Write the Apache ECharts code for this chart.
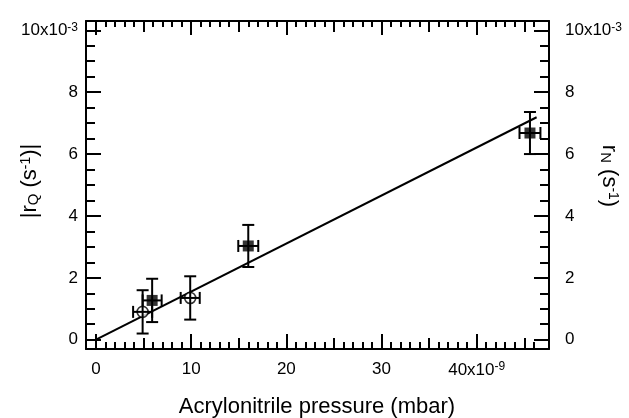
<!DOCTYPE html>
<html>
<head>
<meta charset="utf-8">
<script src="https://cdn.jsdelivr.net/npm/echarts@6/dist/echarts.min.js"></script>
<style>
  html, body { margin: 0; padding: 0; background: #fff; }
  #chart { width: 629px; height: 418px; }
</style>
</head>
<body>
<div id="chart"></div>
<script>
// Pressure in units of 1e-9 mbar, rates in units of 1e-3 s^-1.
const openX = [4.9, 9.9];
const openY = [0.90, 1.35];
const openXErr = [1.0, 1.0];
const openYErr = [0.70, 0.70];

const filledX = [5.9, 16.0, 45.6];
const filledY = [1.27, 3.03, 6.68];
const filledXErr = [1.0, 1.05, 1.1];
const filledYErr = [0.70, 0.68, 0.68];

// Linear fit end points
const fitX = [0, 46.3];
const fitY = [0, 7.19];

// Tick positions and exponent labels
const xMajorTicks = [0, 10, 20, 30, 40];
const xMidTicks = [5, 15, 25, 35, 45];
const yMajorTicks = [0, 2, 4, 6, 8, 10];
const xExponent = '-9';
const yExponent = '-3';

const xRange = [-1.05, 47.6];
const yRange = [-0.3, 10.3];

const FONT = 'Liberation Sans, Arial, Helvetica, sans-serif';
const INK = '#000';

// minor ticks: every 1 on x, every 0.5 on y, skipping the larger ticks
const xMinorTicks = [];
for (let v = 0; v <= 46; v++) if (v % 5 !== 0) xMinorTicks.push(v);
const yMinorTicks = [];
for (let k = 1; k <= 19; k++) { if (k % 4 !== 0) yMinorTicks.push(k / 2); }

const labelRich = {
  n: { fontSize: 17, fontFamily: FONT, color: INK },
  e: { fontSize: 12, fontFamily: FONT, color: INK, verticalAlign: 'top', padding: [0, 0, 6, 0] }
};

function xLabel(v) {
  return v === xMajorTicks[xMajorTicks.length - 1] ? '{n|' + v + 'x10}{e|' + xExponent + '}' : '{n|' + v + '}';
}
function yLabel(v) {
  return v === yMajorTicks[yMajorTicks.length - 1] ? '{n|' + v + 'x10}{e|' + yExponent + '}' : '{n|' + v + '}';
}

function axis(pos, range, ticks, len, label, showLine) {
  return {
    type: 'value',
    position: pos,
    min: range[0],
    max: range[1],
    axisLine: { show: showLine, onZero: false, lineStyle: { color: INK, width: 2 } },
    axisTick: { show: true, inside: true, length: len, customValues: ticks, lineStyle: { color: INK, width: 2 } },
    axisLabel: label ? Object.assign({ show: true, customValues: ticks, rich: labelRich, color: INK }, label) : { show: false },
    splitLine: { show: false }
  };
}

const xAxes = [
  axis('bottom', xRange, xMajorTicks, 15, { formatter: xLabel, margin: 12 }, true),
  axis('bottom', xRange, xMidTicks, 11, null, false),
  axis('bottom', xRange, xMinorTicks, 7, null, false),
  axis('top', xRange, xMajorTicks, 14, null, true),
  axis('top', xRange, xMidTicks, 11, null, false),
  axis('top', xRange, xMinorTicks, 6, null, false)
];
const yAxes = [
  axis('left', yRange, yMajorTicks, 15, { formatter: yLabel, margin: 8 }, true),
  axis('left', yRange, yMinorTicks, 9, null, false),
  axis('right', yRange, yMajorTicks, 15, { formatter: yLabel, margin: 16, align: 'left' }, true),
  axis('right', yRange, yMinorTicks, 9, null, false)
];

function errData(xs, ys, dxs, dys) {
  return xs.map((x, i) => [x, ys[i], dxs[i], dys[i]]);
}

function renderErrorBars(params, api) {
  const x = api.value(0), y = api.value(1), dx = api.value(2), dy = api.value(3);
  const top = api.coord([x, y + dy]);
  const bot = api.coord([x, y - dy]);
  const lft = api.coord([x - dx, y]);
  const rgt = api.coord([x + dx, y]);
  const cap = 6;
  const style = { stroke: INK, lineWidth: 2, fill: null };
  const seg = (x1, y1, x2, y2) => ({ type: 'line', shape: { x1, y1, x2, y2 }, style });
  return {
    type: 'group',
    children: [
      seg(top[0], top[1], bot[0], bot[1]),
      seg(top[0] - cap, top[1], top[0] + cap, top[1]),
      seg(bot[0] - cap, bot[1], bot[0] + cap, bot[1]),
      seg(lft[0], lft[1], rgt[0], rgt[1]),
      seg(lft[0], lft[1] - cap, lft[0], lft[1] + cap),
      seg(rgt[0], rgt[1] - cap, rgt[0], rgt[1] + cap)
    ]
  };
}

const titleRich = {
  b: { fontSize: 22, fontFamily: FONT, fill: INK },
  s: { fontSize: 15, fontFamily: FONT, fill: INK, verticalAlign: 'bottom', padding: [6, 0, 0, 0] },
  p: { fontSize: 14, fontFamily: FONT, fill: INK, verticalAlign: 'top', padding: [0, 0, 8, 0] }
};

const chart = echarts.init(document.getElementById('chart'), null, { renderer: 'canvas' });
chart.setOption({
  animation: false,
  backgroundColor: '#fff',
  grid: { left: 86, top: 21, right: 80, bottom: 69, containLabel: false },
  xAxis: xAxes,
  yAxis: yAxes,
  series: [
    {
      name: 'fit',
      type: 'line',
      xAxisIndex: 0, yAxisIndex: 0,
      data: fitX.map((x, i) => [x, fitY[i]]),
      symbol: 'none',
      lineStyle: { color: INK, width: 2 },
      z: 2
    },
    {
      name: 'rN',
      type: 'scatter',
      xAxisIndex: 0, yAxisIndex: 0,
      data: filledX.map((x, i) => [x, filledY[i]]),
      symbol: 'rect',
      symbolSize: 11,
      itemStyle: { color: INK },
      z: 3
    },
    {
      name: 'rQ',
      type: 'scatter',
      xAxisIndex: 0, yAxisIndex: 0,
      data: openX.map((x, i) => [x, openY[i]]),
      symbol: 'circle',
      symbolSize: 11,
      itemStyle: { color: '#fff', borderColor: INK, borderWidth: 1.6 },
      z: 3
    },
    {
      name: 'rN error',
      type: 'custom',
      xAxisIndex: 0, yAxisIndex: 0,
      renderItem: renderErrorBars,
      encode: { x: 0, y: 1 },
      data: errData(filledX, filledY, filledXErr, filledYErr),
      z: 4
    },
    {
      name: 'rQ error',
      type: 'custom',
      xAxisIndex: 0, yAxisIndex: 0,
      renderItem: renderErrorBars,
      encode: { x: 0, y: 1 },
      data: errData(openX, openY, openXErr, openYErr),
      z: 4
    }
  ],
  graphic: [
    {
      type: 'text',
      x: 317, y: 407,
      style: {
        text: 'Acrylonitrile pressure (mbar)',
        fontSize: 22, fontFamily: FONT, fill: INK,
        align: 'center', verticalAlign: 'middle'
      }
    },
    {
      type: 'text',
      x: 30, y: 181,
      rotation: Math.PI / 2,
      style: {
        text: '{b||r}{s|Q}{b| (s}{p|-1}{b|)|}',
        align: 'center', verticalAlign: 'middle',
        rich: titleRich
      }
    },
    {
      type: 'text',
      x: 609, y: 176,
      rotation: -Math.PI / 2,
      style: {
        text: '{b|r}{s|N}{b| (s}{p|-1}{b|)}',
        align: 'center', verticalAlign: 'middle',
        rich: titleRich
      }
    }
  ]
});
</script>
</body>
</html>
